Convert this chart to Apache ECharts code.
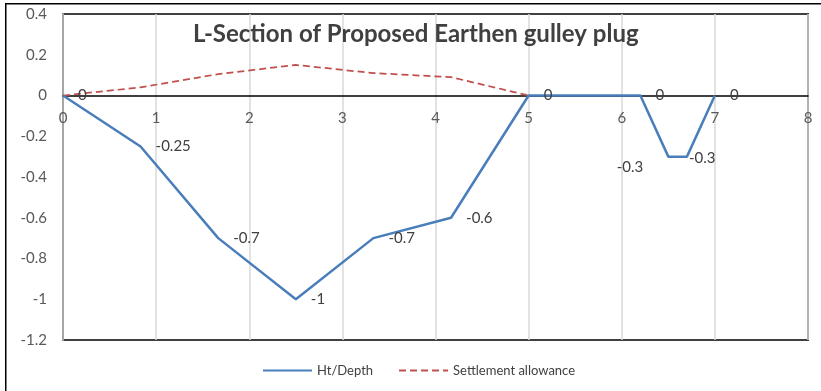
<!DOCTYPE html>
<html>
<head>
<meta charset="utf-8">
<script src="https://cdn.jsdelivr.net/npm/echarts@6/dist/echarts.min.js"></script>
<style>
html,body{margin:0;padding:0;background:#fff;}
#c{width:821px;height:391px;}
</style>
</head>
<body>
<div id="c"></div>
<script>
var titleText = 'L-Section of Proposed Earthen gulley plug';
var seriesNames = ['Ht/Depth', 'Settlement allowance'];
var htX = [0, 0.833, 1.667, 2.5, 3.333, 4.167, 5, 6.2, 6.5, 6.7, 7];
var htY = [0, -0.25, -0.7, -1, -0.7, -0.6, 0, 0, -0.3, -0.3, 0];
var settleX = [0, 0.833, 1.667, 2.5, 3.333, 4.167, 5];
var settleY = [0, 0.04, 0.105, 0.15, 0.11, 0.09, 0];
var xTicks = [0, 1, 2, 3, 4, 5, 6, 7, 8];
var yTicks = [-1.2, -1, -0.8, -0.6, -0.4, -0.2, 0, 0.2, 0.4];

var FONT = 'Lato';
var W = 821, H = 391;
var G = { left: 63, right: 13, top: 14, bottom: 51 };
var yMin = yTicks[0], yMax = yTicks[yTicks.length - 1];
var plotH = H - G.top - G.bottom;
// shift the x axis up from the bottom edge to the y = 0 line
var xAxisOffset = -((0 - yMin) / (yMax - yMin)) * plotH;

var htData = htX.map(function (x, i) {
  var d = { value: [x, htY[i]] };
  if (i === 8) d.label = { position: 'left', offset: [-10, 11] };
  if (i === 9) d.label = { offset: [-13, 2] };
  return d;
});
var settleData = settleX.map(function (x, i) { return [x, settleY[i]]; });

var chart = echarts.init(document.getElementById('c'), null, { renderer: 'canvas' });
chart.setOption({
  animation: false,
  backgroundColor: '#fff',
  title: {
    text: titleText,
    left: 188,
    top: 17,
    textStyle: { fontFamily: FONT, fontWeight: 'bold', fontSize: 24, color: '#404040' }
  },
  graphic: [{
    type: 'rect',
    shape: { x: 5.75, y: 3.75, width: 900, height: 500 },
    style: { fill: 'none', stroke: '#000', lineWidth: 1.5 },
    silent: true, z: 100
  }],
  legend: {
    bottom: 9,
    left: 257,
    itemWidth: 49,
    itemHeight: 10,
    itemGap: 25,
    textStyle: { fontFamily: FONT, fontSize: 13, color: '#404040' },
    itemStyle: { opacity: 0 },
    data: seriesNames
  },
  grid: {
    left: G.left, right: G.right, top: G.top, bottom: G.bottom,
    show: true, borderColor: '#404040', borderWidth: 2,
    containLabel: false
  },
  xAxis: [{
    type: 'value',
    position: 'bottom',
    offset: xAxisOffset,
    min: xTicks[0], max: xTicks[xTicks.length - 1], interval: 1,
    axisLine: { show: true, onZero: false, lineStyle: { color: '#000', width: 1.5 } },
    axisTick: { show: false },
    axisLabel: { fontFamily: FONT, fontSize: 15, color: '#595959', margin: 15 },
    splitLine: { show: true, lineStyle: { color: '#D9D9D9', width: 1.5 } }
  }],
  yAxis: {
    type: 'value',
    min: yMin, max: yMax, interval: 0.2,
    axisLine: { show: true, onZero: false, lineStyle: { color: '#A6A6A6', width: 2 } },
    axisTick: { show: false },
    axisLabel: { fontFamily: FONT, fontSize: 15, color: '#595959', margin: 16 },
    splitLine: { show: false }
  },
  series: [{
    name: seriesNames[0],
    type: 'line',
    data: htData,
    symbol: 'circle',
    symbolSize: 0.01,
    z: 3,
    lineStyle: { color: '#4A7EBB', width: 2.5 },
    itemStyle: { color: '#4A7EBB' },
    label: {
      show: true, position: 'right', distance: 15,
      fontFamily: FONT, fontSize: 15, color: '#404040',
      formatter: function (p) { return String(p.value[1]); }
    }
  }, {
    name: seriesNames[1],
    type: 'line',
    data: settleData,
    symbol: 'circle',
    symbolSize: 0.01,
    z: 2,
    lineStyle: { color: '#C0504D', width: 1.75, type: [7, 4] },
    itemStyle: { color: '#C0504D' },
    label: { show: false }
  }]
});
</script>
</body>
</html>
